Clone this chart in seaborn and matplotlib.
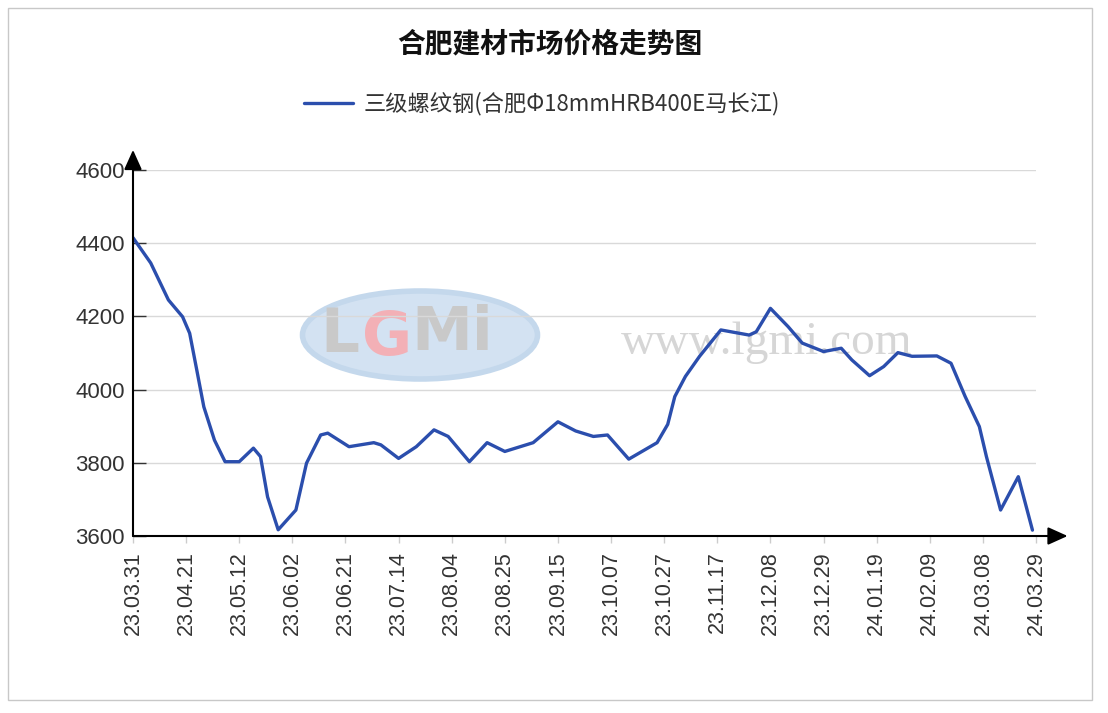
import matplotlib
matplotlib.use("Agg")
import matplotlib.pyplot as plt
import seaborn as sns
import pandas as pd
from matplotlib.patches import Ellipse, Rectangle

sns.set_theme(style="white")
plt.rcParams['font.family'] = ['Noto Sans CJK SC', 'DejaVu Sans']

title = "合肥建材市场价格走势图"
series_name = "三级螺纹钢(合肥Φ18mmHRB400E马长江)"

tick_labels = ["23.03.31", "23.04.21", "23.05.12", "23.06.02", "23.06.21", "23.07.14",
               "23.08.04", "23.08.25", "23.09.15", "23.10.07", "23.10.27", "23.11.17",
               "23.12.08", "23.12.29", "24.01.19", "24.02.09", "24.03.08", "24.03.29"]
tick_step = 15

day_index = [0, 5, 10, 14, 16, 18, 20, 23, 26, 30, 34, 36, 38, 41, 46, 49, 53, 55,
             61, 68, 70, 75, 80, 85, 89, 95, 100, 105, 113, 120, 125, 130, 134, 140,
             148, 151, 153, 156, 160, 166, 170, 174, 176, 180, 185, 189, 195, 200, 203,
             208, 212, 216, 220, 227, 231, 235, 239, 241, 245, 250, 254]
price = [4415, 4346, 4245, 4199, 4154, 4054, 3953, 3862, 3803, 3803, 3840, 3817, 3707,
         3617, 3671, 3799, 3876, 3881, 3844, 3855, 3849, 3812, 3844, 3890, 3872, 3803,
         3855, 3831, 3855, 3912, 3887, 3872, 3876, 3810, 3855, 3905, 3981, 4036, 4091,
         4163, 4156, 4149, 4158, 4222, 4172, 4127, 4104, 4113, 4081, 4038, 4063, 4101,
         4091, 4092, 4072, 3981, 3899, 3817, 3671, 3762, 3616]
y_ticks = [3600, 3800, 4000, 4200, 4400, 4600]

df = pd.DataFrame({"day": day_index, "price": price})

W, H = 1108, 713
fig = plt.figure(figsize=(W / 100, H / 100), dpi=100)
fig.patch.set_facecolor("white")

# outer border
fig.add_artist(Rectangle((8 / W, 1 - 700 / H), (1092 - 8) / W, (700 - 8) / H,
                         transform=fig.transFigure, fill=False, edgecolor="#c8c8c8", lw=1))

left, right, top, bottom = 133, 1036, 170, 536
ax = fig.add_axes([left / W, 1 - bottom / H, (right - left) / W, (bottom - top) / H])

# watermark
ax_wm = fig.add_axes([0, 0, 1, 1], zorder=-1)
ax_wm.set_xlim(0, W); ax_wm.set_ylim(H, 0); ax_wm.axis("off")
ax_wm.add_patch(Ellipse((420, 335), 235, 88, facecolor="#d3e2f2", edgecolor="#c4d8ec", lw=4))
ax_wm.text(340, 336, "L", fontsize=44, color="#c9c9c9", ha="center", va="center", family="DejaVu Sans", weight="bold")
ax_wm.text(387, 338, "G", fontsize=44, color="#f3b0b6", ha="center", va="center", family="DejaVu Sans", weight="bold")
ax_wm.text(452, 334, "Mi", fontsize=44, color="#c9c9c9", ha="center", va="center", family="DejaVu Sans", weight="bold")
ax_wm.text(767, 343, "www.lgmi.com", fontsize=34, color="#d6d6d6", ha="center", va="center", family="Liberation Serif")
ax.patch.set_alpha(0)

sns.lineplot(data=df, x="day", y="price", ax=ax, color="#2b4ead", linewidth=2.4, label=series_name)
for ln in ax.get_lines():
    ln.set_solid_joinstyle("round")
    ln.set_solid_capstyle("round")

ax.set_xlim(0, tick_step * (len(tick_labels) - 1))
ax.set_ylim(3600, 4600)
ax.set_xticks([i * tick_step for i in range(len(tick_labels))])
ax.set_xticklabels(tick_labels, rotation=90, fontsize=15.5, color="#333333", family="Liberation Sans")
ax.set_yticks(y_ticks)
ax.set_yticklabels([str(v) for v in y_ticks], fontsize=16, color="#333333", family="Liberation Sans")
ax.set_xlabel(""); ax.set_ylabel("")
ax.grid(axis="y", color="#d9d9d9", lw=1)
ax.grid(axis="x", visible=False)
for s in ax.spines.values():
    s.set_visible(False)
ax.tick_params(axis="y", direction="in", length=9, width=1, color="#333333", pad=6, left=True)
ax.tick_params(axis="x", direction="out", length=5, width=1, color="#cccccc", pad=6, bottom=True)

# arrow axes
ax.annotate("", xy=(0, 1.055), xytext=(0, 0), xycoords="axes fraction",
            arrowprops=dict(arrowstyle="-|>,head_length=1.0,head_width=0.45", color="black", lw=1.5, shrinkA=0, shrinkB=0),
            annotation_clip=False)
ax.annotate("", xy=(1.035, 0), xytext=(0, 0), xycoords="axes fraction",
            arrowprops=dict(arrowstyle="-|>,head_length=1.0,head_width=0.45", color="black", lw=1.5, shrinkA=0, shrinkB=0),
            annotation_clip=False)

fig.text(550 / W, 1 - 44 / H, title, ha="center", va="center", fontsize=20, weight="bold", color="#111111")
handles, labels = ax.get_legend_handles_labels()
ax.get_legend().remove()
fig.legend(handles, labels, loc="center", bbox_to_anchor=(542 / W, 1 - 104 / H), frameon=False,
           fontsize=16, handlelength=2.2, handletextpad=0.5, labelcolor="#333333")

fig.savefig("out.png", dpi=100)
